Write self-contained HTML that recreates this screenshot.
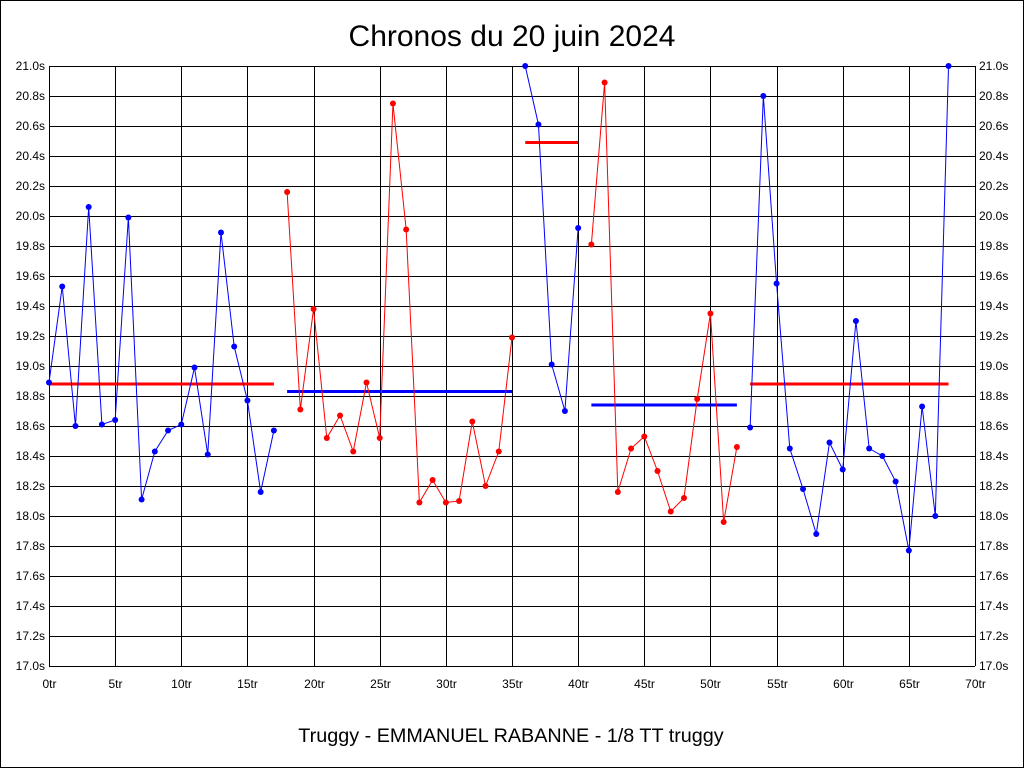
<!DOCTYPE html>
<html><head><meta charset="utf-8"><style>
html,body{margin:0;padding:0;background:#fff}
svg{display:block}
text{font-family:"Liberation Sans",Arial,sans-serif;fill:#000}
</style></head><body>
<svg id="c" width="1024" height="768" xmlns="http://www.w3.org/2000/svg">
<rect x="0.5" y="0.5" width="1023" height="767" fill="#fff" stroke="#000"/>
<text x="512" y="46" font-size="30" text-anchor="middle">Chronos du 20 juin 2024</text>
<text x="511" y="742" font-size="19.8" text-anchor="middle">Truggy - EMMANUEL RABANNE - 1/8 TT truggy</text>
<g id="g"></g>
</svg>
<script>
var g=document.getElementById('g'),NS='http://www.w3.org/2000/svg';
var X0=49,X1=975,Y0=66,Y1=666;
function X(l){return X0+(X1-X0)*l/70}
function Y(v){return Y1-(v-17)*150}
function el(t,a,txt){var e=document.createElementNS(NS,t);for(var k in a)e.setAttribute(k,a[k]);if(txt!=null)e.textContent=txt;g.appendChild(e);return e}
for(var i=0;i<=20;i++){var y=Y(17+i*0.2);
el('line',{x1:X0,x2:X1,y1:y+0.5,y2:y+0.5,stroke:'#000','stroke-width':1});
var s=(17+i*0.2).toFixed(1)+'s';
el('text',{x:X0-4,y:y+4,'font-size':12,'text-anchor':'end'},s);
el('text',{x:X1+4,y:y+4,'font-size':12},s);}
for(var i=0;i<=14;i++){var x=Math.round(X(i*5))+0.5;
el('line',{x1:x,x2:x,y1:Y0,y2:Y1,stroke:'#000','stroke-width':1});
el('text',{x:x,y:Y1+22,'font-size':12,'text-anchor':'middle'},(i*5)+'tr');}
var segs=[
[0,'#0000ff',[18.89,19.53,18.60,20.06,18.61,18.64,19.99,18.11,18.43,18.57,18.61,18.99,18.41,19.89,19.13,18.77,18.16,18.57]],
[18,'#ff0000',[20.16,18.71,19.38,18.52,18.67,18.43,18.89,18.52,20.75,19.91,18.09,18.24,18.09,18.10,18.63,18.20,18.43,19.19]],
[36,'#0000ff',[21.0,20.61,19.01,18.70,19.92]],
[41,'#ff0000',[19.81,20.89,18.16,18.45,18.53,18.30,18.03,18.12,18.78,19.35,17.96,18.46]],
[53,'#0000ff',[18.59,20.80,19.55,18.45,18.18,17.88,18.49,18.31,19.30,18.45,18.40,18.23,17.77,18.73,18.00,21.00]]];
var avgs=[[0,17,18.88,'#ff0000'],[18,35,18.83,'#0000ff'],[36,40,20.49,'#ff0000'],[41,52,18.74,'#0000ff'],[53,68,18.88,'#ff0000']];
avgs.forEach(function(a){el('line',{x1:X(a[0]),x2:X(a[1]),y1:Y(a[2]),y2:Y(a[2]),stroke:a[3],'stroke-width':3});});
segs.forEach(function(s){var p=s[2].map(function(v,i){return X(s[0]+i)+','+Y(v)}).join(' ');
el('polyline',{points:p,fill:'none',stroke:s[1],'stroke-width':1});
s[2].forEach(function(v,i){el('circle',{cx:X(s[0]+i),cy:Y(v),r:3,fill:s[1]});});});
</script>
</body></html>
